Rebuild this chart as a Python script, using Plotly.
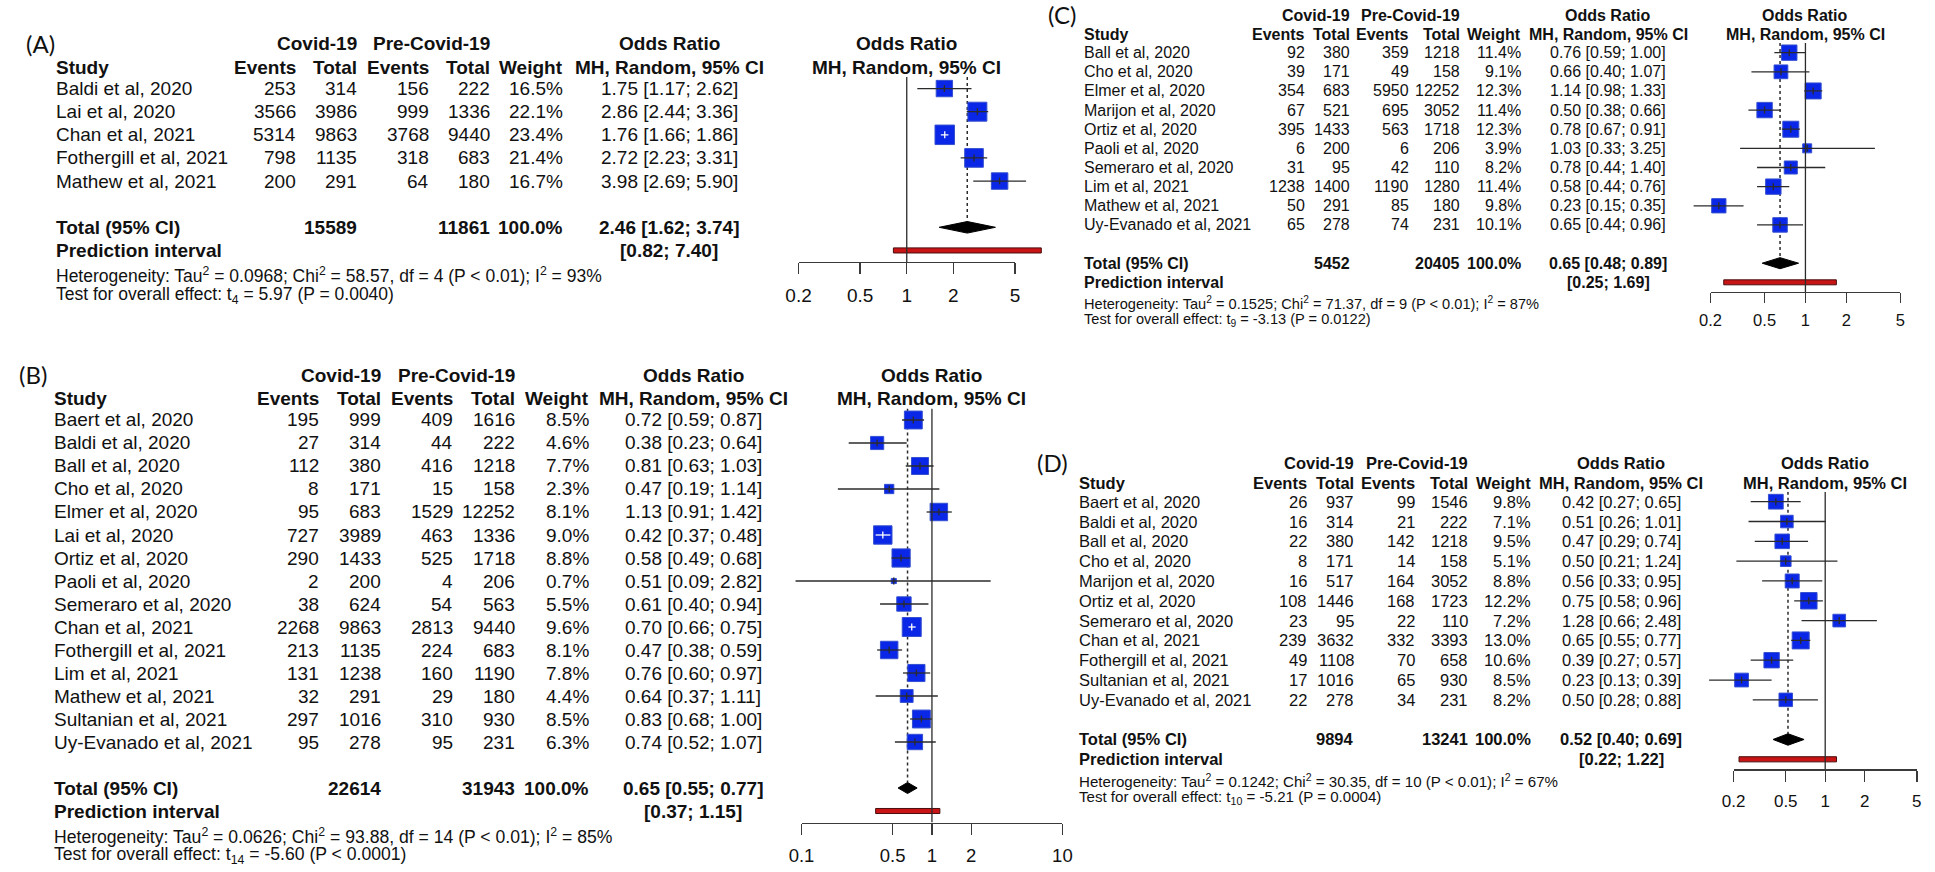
import math
import plotly.graph_objects as go

# ================= DATA =================
# ---- Panel A ----
a_study = ["Baldi et al, 2020", "Lai et al, 2020", "Chan et al, 2021",
           "Fothergill et al, 2021", "Mathew et al, 2021"]
a_ev_covid = [253, 3566, 5314, 798, 200]
a_n_covid = [314, 3986, 9863, 1135, 291]
a_ev_pre = [156, 999, 3768, 318, 64]
a_n_pre = [222, 1336, 9440, 683, 180]
a_weight = [16.5, 22.1, 23.4, 21.4, 16.7]
a_or = [1.75, 2.86, 1.76, 2.72, 3.98]
a_lo = [1.17, 2.44, 1.66, 2.23, 2.69]
a_hi = [2.62, 3.36, 1.86, 3.31, 5.90]
a_pooled = [2.46, 1.62, 3.74]
a_pred = [0.82, 7.40]
a_het = ["0.0968", "58.57", "4", "&lt; 0.01", "93"]
a_test = ["4", "5.97", "= 0.0040"]
a_ticks = [0.2, 0.5, 1, 2, 5]
a_ticklabels = ["0.2", "0.5", "1", "2", "5"]

# ---- Panel B ----
b_study = ["Baert et al, 2020", "Baldi et al, 2020", "Ball et al, 2020", "Cho et al, 2020",
           "Elmer et al, 2020", "Lai et al, 2020", "Ortiz et al, 2020", "Paoli et al, 2020",
           "Semeraro et al, 2020", "Chan et al, 2021", "Fothergill et al, 2021", "Lim et al, 2021",
           "Mathew et al, 2021", "Sultanian et al, 2021", "Uy-Evanado et al, 2021"]
b_ev_covid = [195, 27, 112, 8, 95, 727, 290, 2, 38, 2268, 213, 131, 32, 297, 95]
b_n_covid = [999, 314, 380, 171, 683, 3989, 1433, 200, 624, 9863, 1135, 1238, 291, 1016, 278]
b_ev_pre = [409, 44, 416, 15, 1529, 463, 525, 4, 54, 2813, 224, 160, 29, 310, 95]
b_n_pre = [1616, 222, 1218, 158, 12252, 1336, 1718, 206, 563, 9440, 683, 1190, 180, 930, 231]
b_weight = [8.5, 4.6, 7.7, 2.3, 8.1, 9.0, 8.8, 0.7, 5.5, 9.6, 8.1, 7.8, 4.4, 8.5, 6.3]
b_or = [0.72, 0.38, 0.81, 0.47, 1.13, 0.42, 0.58, 0.51, 0.61, 0.70, 0.47, 0.76, 0.64, 0.83, 0.74]
b_lo = [0.59, 0.23, 0.63, 0.19, 0.91, 0.37, 0.49, 0.09, 0.40, 0.66, 0.38, 0.60, 0.37, 0.68, 0.52]
b_hi = [0.87, 0.64, 1.03, 1.14, 1.42, 0.48, 0.68, 2.82, 0.94, 0.75, 0.59, 0.97, 1.11, 1.00, 1.07]
b_pooled = [0.65, 0.55, 0.77]
b_pred = [0.37, 1.15]
b_het = ["0.0626", "93.88", "14", "&lt; 0.01", "85"]
b_test = ["14", "-5.60", "&lt; 0.0001"]
b_ticks = [0.1, 0.5, 1, 2, 10]
b_ticklabels = ["0.1", "0.5", "1", "2", "10"]

# ---- Panel C ----
c_study = ["Ball et al, 2020", "Cho et al, 2020", "Elmer et al, 2020", "Marijon et al, 2020",
           "Ortiz et al, 2020", "Paoli et al, 2020", "Semeraro et al, 2020", "Lim et al, 2021",
           "Mathew et al, 2021", "Uy-Evanado et al, 2021"]
c_ev_covid = [92, 39, 354, 67, 395, 6, 31, 1238, 50, 65]
c_n_covid = [380, 171, 683, 521, 1433, 200, 95, 1400, 291, 278]
c_ev_pre = [359, 49, 5950, 695, 563, 6, 42, 1190, 85, 74]
c_n_pre = [1218, 158, 12252, 3052, 1718, 206, 110, 1280, 180, 231]
c_weight = [11.4, 9.1, 12.3, 11.4, 12.3, 3.9, 8.2, 11.4, 9.8, 10.1]
c_or = [0.76, 0.66, 1.14, 0.50, 0.78, 1.03, 0.78, 0.58, 0.23, 0.65]
c_lo = [0.59, 0.40, 0.98, 0.38, 0.67, 0.33, 0.44, 0.44, 0.15, 0.44]
c_hi = [1.00, 1.07, 1.33, 0.66, 0.91, 3.25, 1.40, 0.76, 0.35, 0.96]
c_pooled = [0.65, 0.48, 0.89]
c_pred = [0.25, 1.69]
c_het = ["0.1525", "71.37", "9", "&lt; 0.01", "87"]
c_test = ["9", "-3.13", "= 0.0122"]
c_ticks = [0.2, 0.5, 1, 2, 5]
c_ticklabels = ["0.2", "0.5", "1", "2", "5"]

# ---- Panel D ----
d_study = ["Baert et al, 2020", "Baldi et al, 2020", "Ball et al, 2020", "Cho et al, 2020",
           "Marijon et al, 2020", "Ortiz et al, 2020", "Semeraro et al, 2020", "Chan et al, 2021",
           "Fothergill et al, 2021", "Sultanian et al, 2021", "Uy-Evanado et al, 2021"]
d_ev_covid = [26, 16, 22, 8, 16, 108, 23, 239, 49, 17, 22]
d_n_covid = [937, 314, 380, 171, 517, 1446, 95, 3632, 1108, 1016, 278]
d_ev_pre = [99, 21, 142, 14, 164, 168, 22, 332, 70, 65, 34]
d_n_pre = [1546, 222, 1218, 158, 3052, 1723, 110, 3393, 658, 930, 231]
d_weight = [9.8, 7.1, 9.5, 5.1, 8.8, 12.2, 7.2, 13.0, 10.6, 8.5, 8.2]
d_or = [0.42, 0.51, 0.47, 0.50, 0.56, 0.75, 1.28, 0.65, 0.39, 0.23, 0.50]
d_lo = [0.27, 0.26, 0.29, 0.21, 0.33, 0.58, 0.66, 0.55, 0.27, 0.13, 0.28]
d_hi = [0.65, 1.01, 0.74, 1.24, 0.95, 0.96, 2.48, 0.77, 0.57, 0.39, 0.88]
d_pooled = [0.52, 0.40, 0.69]
d_pred = [0.22, 1.22]
d_het = ["0.1242", "30.35", "10", "&lt; 0.01", "67"]
d_test = ["10", "-5.21", "= 0.0004"]
d_ticks = [0.2, 0.5, 1, 2, 5]
d_ticklabels = ["0.2", "0.5", "1", "2", "5"]

# ================= STYLE / LAYOUT =================
W, H = 1935, 872
FONT = "Liberation Sans, Arial, sans-serif"
TAGFONT = "Lato, Open Sans, sans-serif"
TXT = "#111111"
BLUE = "#0a26e6"
BLUE_EDGE = "#3550d0"
LINE = "#2b2b2b"
AX = "#3a3a3a"

panels = [
    dict(tag="(A)", study=a_study, evc=a_ev_covid, nc=a_n_covid, evp=a_ev_pre, npre=a_n_pre,
         w=a_weight, est=a_or, lo=a_lo, hi=a_hi, pooled=a_pooled, pred=a_pred, het=a_het,
         test=a_test, ticks=a_ticks, ticktext=a_ticklabels,
         L=795, R=1014, T=77, B=262, fs=19, tfs=19, hfs=17.5, box=19.5, dia=0.25, pih=0.11,
         tlen=11, stand=5, padl=40, padr=35,
         cx=dict(study=42.7, evc=287, nc=349, evp=422, npre=484, w=558, orc=664), tagx=28),
    dict(tag="(B)", study=b_study, evc=b_ev_covid, nc=b_n_covid, evp=b_ev_pre, npre=b_n_pre,
         w=b_weight, est=b_or, lo=b_lo, hi=b_hi, pooled=b_pooled, pred=b_pred, het=b_het,
         test=b_test, ticks=b_ticks, ticktext=b_ticklabels,
         L=798, R=1062, T=408.5, B=822.5, fs=19, tfs=18.5, hfs=17.6, box=19, dia=0.24, pih=0.11,
         tlen=11, stand=5, padl=40, padr=35,
         cx=dict(study=40, evc=311, nc=373, evp=446, npre=509, w=584, orc=688.5), tagx=20),
    dict(tag="(C)", study=c_study, evc=c_ev_covid, nc=c_n_covid, evp=c_ev_pre, npre=c_n_pre,
         w=c_weight, est=c_or, lo=c_lo, hi=c_hi, pooled=c_pooled, pred=c_pred, het=c_het,
         test=c_test, ticks=c_ticks, ticktext=c_ticklabels,
         L=1718, R=1910, T=43.1, B=291.9, fs=16, tfs=16.5, hfs=14.6, box=16, dia=0.29, pih=0.13,
         tlen=10, stand=3, padl=40, padr=5,
         cx=dict(study=1083, evc=1308.5, nc=1354, evp=1414, npre=1465.5, w=1527, orc=1614.5), tagx=1062),
    dict(tag="(D)", study=d_study, evc=d_ev_covid, nc=d_n_covid, evp=d_ev_pre, npre=d_n_pre,
         w=d_weight, est=d_or, lo=d_lo, hi=d_hi, pooled=d_pooled, pred=d_pred, het=d_het,
         test=d_test, ticks=d_ticks, ticktext=d_ticklabels,
         L=1741.3, R=1926.7, T=491.8, B=769.2, fs=16.5, tfs=17, hfs=15.1, box=17, dia=0.29, pih=0.13,
         tlen=11, stand=5, padl=40, padr=5,
         cx=dict(study=1077.4, evc=1310.8, nc=1358, evp=1420, npre=1473.8, w=1537, orc=1627.5), tagx=1052),
]

fig = go.Figure()
axes = {}
anns = []


def ann(text, xpx, yval, yref, anchor, size, bold=False, family=FONT):
    return dict(text=("<b>%s</b>" % text) if bold else text, x=xpx / W, xref="paper",
                y=yval, yref=yref, xanchor=anchor, yanchor="middle", showarrow=False,
                borderpad=0, font=dict(family=family, size=size, color=TXT))


for i, p in enumerate(panels, start=1):
    n = len(p["study"])
    sfx = "" if i == 1 else str(i)
    xa, ya = "x" + sfx, "y" + sfx
    tk = i + 4
    lt0, lt1 = math.log10(p["ticks"][0]), math.log10(p["ticks"][-1])
    kpx = (p["R"] - p["L"]) / (lt1 - lt0)
    y_top, y_bot = -0.5, n + 2.5
    row_px = (p["B"] - p["T"]) / (y_bot - y_top)

    def ypaper(idx, p=p, row_px=row_px):
        return 1 - (p["T"] + (idx + 0.5) * row_px) / H

    axes["xaxis" + sfx] = dict(type="log", domain=[(p["L"] - p["padl"]) / W, (p["R"] + p["padr"]) / W],
                              range=[lt0 - p["padl"] / kpx, lt1 + p["padr"] / kpx],
                              visible=False, anchor=ya, fixedrange=True)
    axes["yaxis" + sfx] = dict(domain=[1 - p["B"] / H, 1 - p["T"] / H], range=[y_bot, y_top],
                              visible=False, anchor=xa, fixedrange=True)
    axes["xaxis%d" % tk] = dict(type="log", domain=[p["L"] / W, p["R"] / W], range=[lt0, lt1],
                               anchor=ya, showline=True, linecolor=AX, linewidth=1.4,
                               ticks="outside", ticklen=p["tlen"], tickwidth=1.4, tickcolor=AX,
                               tickvals=p["ticks"], ticktext=p["ticktext"],
                               tickfont=dict(family=FONT, size=p["tfs"], color=TXT),
                               ticklabelstandoff=p["stand"], showgrid=False, zeroline=False,
                               fixedrange=True)

    rows = list(range(n))
    total_row, pred_row = n + 1, n + 2
    est, lo, hi = p["pooled"]

    # reference line at OR = 1 (on the tick axis)
    fig.add_trace(go.Scatter(x=[1, 1], y=[y_top, y_bot], mode="lines",
                             line=dict(color=LINE, width=1.3), xaxis="x%d" % tk, yaxis=ya,
                             hoverinfo="skip", showlegend=False))
    # dotted line at pooled estimate
    fig.add_trace(go.Scatter(x=[est, est], y=[y_top, total_row - p["dia"]], mode="lines",
                             line=dict(color=LINE, width=1.5, dash="dot"), xaxis=xa, yaxis=ya,
                             hoverinfo="skip", showlegend=False))

    wmax = max(p["w"])
    sizes = [p["box"] * math.sqrt(w / wmax) for w in p["w"]]
    white = [kpx * (math.log10(h) - math.log10(l)) < s - 1
             for l, h, s in zip(p["lo"], p["hi"], sizes)]

    # squares
    fig.add_trace(go.Scatter(x=p["est"], y=rows, mode="markers",
                             marker=dict(symbol="square", size=sizes, color=BLUE, opacity=1,
                                         line=dict(color=BLUE_EDGE, width=1)),
                             xaxis=xa, yaxis=ya, hoverinfo="skip", showlegend=False))
    # CI lines
    for flag, col in ((False, LINE), (True, "#ffffff")):
        xs, ys = [], []
        for r in rows:
            if white[r] == flag:
                xs += [p["lo"][r], p["hi"][r], None]
                ys += [r, r, None]
        if xs:
            fig.add_trace(go.Scatter(x=xs, y=ys, mode="lines", line=dict(color=col, width=1.3),
                                     xaxis=xa, yaxis=ya, hoverinfo="skip", showlegend=False))
    # point estimate ticks
    fig.add_trace(go.Scatter(x=p["est"], y=rows, mode="markers",
                             marker=dict(symbol="line-ns", size=5,
                                         line=dict(width=1.3, color=["#ffffff" if wf else LINE for wf in white])),
                             xaxis=xa, yaxis=ya, hoverinfo="skip", showlegend=False))
    # pooled diamond
    d = p["dia"]
    fig.add_trace(go.Scatter(x=[lo, est, hi, est, lo],
                             y=[total_row, total_row - d, total_row, total_row + d, total_row],
                             mode="lines", fill="toself", fillcolor="#000000",
                             line=dict(color="#000000", width=1), xaxis=xa, yaxis=ya,
                             hoverinfo="skip", showlegend=False))
    # prediction interval bar
    plo, phi = p["pred"]
    ph = p["pih"]
    fig.add_trace(go.Scatter(x=[plo, phi, phi, plo, plo],
                             y=[pred_row - ph, pred_row - ph, pred_row + ph, pred_row + ph, pred_row - ph],
                             mode="lines", fill="toself", fillcolor="#c81414",
                             line=dict(color="#4a0d0d", width=1), xaxis=xa, yaxis=ya,
                             hoverinfo="skip", showlegend=False))

    # ---------- text ----------
    c = p["cx"]
    fs = p["fs"]
    h1, h2 = ypaper(-1.95), ypaper(-0.93)
    plot_cx = (p["L"] + p["R"]) / 2
    anns.append(ann(p["tag"], p["tagx"], ypaper(-1.97), "paper", "center", 24, family=TAGFONT))
    anns.append(ann("Covid-19", c["nc"], h1, "paper", "right", fs, True))
    anns.append(ann("Pre-Covid-19", c["npre"], h1, "paper", "right", fs, True))
    anns.append(ann("Odds Ratio", c["orc"], h1, "paper", "center", fs, True))
    anns.append(ann("Odds Ratio", plot_cx, h1, "paper", "center", fs, True))
    anns.append(ann("Study", c["study"], h2, "paper", "left", fs, True))
    anns.append(ann("Events", c["evc"], h2, "paper", "right", fs, True))
    anns.append(ann("Total", c["nc"], h2, "paper", "right", fs, True))
    anns.append(ann("Events", c["evp"], h2, "paper", "right", fs, True))
    anns.append(ann("Total", c["npre"], h2, "paper", "right", fs, True))
    anns.append(ann("Weight", c["w"], h2, "paper", "right", fs, True))
    anns.append(ann("MH, Random, 95% CI", c["orc"], h2, "paper", "center", fs, True))
    anns.append(ann("MH, Random, 95% CI", plot_cx, h2, "paper", "center", fs, True))
    for r in rows:
        anns.append(ann(p["study"][r], c["study"], r, ya, "left", fs))
        anns.append(ann(str(p["evc"][r]), c["evc"], r, ya, "right", fs))
        anns.append(ann(str(p["nc"][r]), c["nc"], r, ya, "right", fs))
        anns.append(ann(str(p["evp"][r]), c["evp"], r, ya, "right", fs))
        anns.append(ann(str(p["npre"][r]), c["npre"], r, ya, "right", fs))
        anns.append(ann("%.1f%%" % p["w"][r], c["w"], r, ya, "right", fs))
        anns.append(ann("%.2f [%.2f; %.2f]" % (p["est"][r], p["lo"][r], p["hi"][r]),
                        c["orc"], r, ya, "center", fs))
    anns.append(ann("Total (95% CI)", c["study"], total_row, ya, "left", fs, True))
    anns.append(ann(str(sum(p["nc"])), c["nc"], total_row, ya, "right", fs, True))
    anns.append(ann(str(sum(p["npre"])), c["npre"], total_row, ya, "right", fs, True))
    anns.append(ann("%.1f%%" % 100.0, c["w"], total_row, ya, "right", fs, True))
    anns.append(ann("%.2f [%.2f; %.2f]" % (est, lo, hi), c["orc"], total_row, ya, "center", fs, True))
    anns.append(ann("Prediction interval", c["study"], pred_row, ya, "left", fs, True))
    anns.append(ann("[%.2f; %.2f]" % (plo, phi), c["orc"], pred_row, ya, "center", fs, True))
    tau2, chi2, df, phet, i2 = p["het"]
    het_txt = ("Heterogeneity: Tau<sup>2</sup> = %s; Chi<sup>2</sup> = %s, df = %s (P %s); "
               "I<sup>2</sup> = %s%%" % (tau2, chi2, df, phet, i2))
    tdf, tval, pval = p["test"]
    test_txt = "Test for overall effect: t<sub>%s</sub> = %s (P %s)" % (tdf, tval, pval)
    anns.append(ann(het_txt, c["study"], ypaper(n + 3.07), "paper", "left", p["hfs"]))
    anns.append(ann(test_txt, c["study"], ypaper(n + 3.95), "paper", "left", p["hfs"]))

fig.update_layout(width=W, height=H, autosize=False, margin=dict(l=0, r=0, t=0, b=0),
                  paper_bgcolor="#ffffff", plot_bgcolor="rgba(0,0,0,0)", showlegend=False,
                  annotations=anns, **axes)
fig.write_html("out.html", config={"displayModeBar": False, "staticPlot": True},
               post_script="document.body.style.margin='0px';document.body.style.overflow='hidden';")
